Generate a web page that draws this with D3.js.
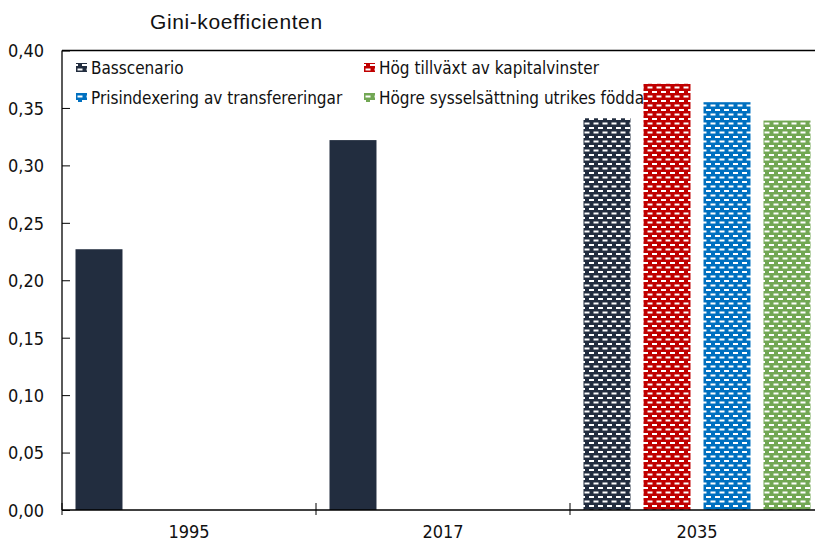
<!DOCTYPE html>
<html>
<head>
<meta charset="utf-8">
<script src="https://cdn.jsdelivr.net/npm/d3@7"></script>
<style>
  body { margin: 0; background: #fff; overflow: hidden; }
  text { font-family: "Liberation Sans Narrow", "DejaVu Sans Condensed", sans-serif; fill: #111; }
</style>
</head>
<body>
<script>
// data
const years = ["1995", "2017", "2035"];
const series = ["Basscenario", "Hög tillväxt av kapitalvinster",
                "Prisindexering av transfereringar", "Högre sysselsättning utrikes födda"];
const colors = ["#222d3f", "#c00000", "#0070c0", "#72a754"];
// one value per series for each year (null = no bar)
const values1995 = [0.227, null, null, null];
const values2017 = [0.322, null, null, null];
const values2035 = [0.341, 0.371, 0.355, 0.339];
const yTicks = [0, 0.05, 0.10, 0.15, 0.20, 0.25, 0.30, 0.35, 0.40];

const table = [values1995, values2017, values2035];

const width = 815, height = 543;
const margin = {top: 50.5, right: -9, bottom: 33, left: 62};

const svg = d3.select("body").append("svg")
    .attr("width", width)
    .attr("height", height);

const defs = svg.append("defs");

// brick-like dash pattern, one per series colour
colors.forEach((c, i) => {
    const p = defs.append("pattern")
        .attr("id", "pat" + i)
        .attr("patternUnits", "userSpaceOnUse")
        .attr("width", 9)
        .attr("height", 9);
    p.append("rect").attr("width", 9).attr("height", 9).attr("fill", c);
    [[1, 1], [5.5, 5.5], [-3.5, 5.5]].forEach(([x, y]) => {
        p.append("rect")
            .attr("x", x).attr("y", y)
            .attr("width", 5).attr("height", 2)
            .attr("fill", "#fff");
    });
});

const x0 = d3.scaleBand()
    .domain(years)
    .range([margin.left, width - margin.right]);

const x1 = d3.scaleBand()
    .domain(series)
    .range([0, x0.bandwidth()])
    .paddingInner(0.217)
    .paddingOuter(0.225);

const y = d3.scaleLinear()
    .domain([0, 0.40])
    .range([height - margin.bottom, margin.top]);

const fmt = d => d3.format(".2f")(d).replace(".", ",");

// bars (1995 and 2017 solid, 2035 patterned)
years.forEach((yr, gi) => {
    const g = svg.append("g").attr("transform", `translate(${x0(yr)},0)`);
    table[gi].forEach((v, si) => {
        if (v == null) return;
        g.append("rect")
            .attr("x", x1(series[si]))
            .attr("y", y(v))
            .attr("width", x1.bandwidth())
            .attr("height", y(0) - y(v))
            .attr("fill", yr === "2035" ? `url(#pat${si})` : colors[si]);
    });
});

// y axis, ticks pointing into the plot
const yAxis = svg.append("g")
    .attr("transform", `translate(${margin.left},0)`)
    .call(d3.axisRight(y).tickValues(yTicks).tickFormat(fmt).tickSize(8));
yAxis.select(".domain").remove();
yAxis.selectAll(".tick line").attr("stroke", "#000");
yAxis.selectAll(".tick text")
    .attr("x", -18)
    .attr("text-anchor", "end")
    .attr("font-size", 18)
    .attr("dy", "0.35em");
svg.append("line")
    .attr("x1", margin.left).attr("x2", margin.left)
    .attr("y1", y(0.40)).attr("y2", y(0))
    .attr("stroke", "#000").attr("stroke-width", 1.3);

// x axis with ticks between groups
const xAxis = svg.append("g")
    .attr("transform", `translate(0,${y(0)})`);
xAxis.append("line")
    .attr("x1", margin.left).attr("x2", width)
    .attr("stroke", "#000").attr("stroke-width", 1.3);
xAxis.selectAll(".sep")
    .data(years)
    .join("line")
    .attr("x1", d => x0(d)).attr("x2", d => x0(d))
    .attr("y1", -7).attr("y2", 5)
    .attr("stroke", "#000");
xAxis.selectAll(".lab")
    .data(years)
    .join("text")
    .attr("x", d => x0(d) + x0.bandwidth() / 2)
    .attr("y", 28)
    .attr("text-anchor", "middle")
    .attr("font-size", 18)
    .text(d => d);

// legend box top edge
svg.append("line")
    .attr("x1", margin.left).attr("x2", width)
    .attr("y1", y(0.40)).attr("y2", y(0.40))
    .attr("stroke", "#000").attr("stroke-width", 1.3);

// legend: two columns, two rows
const legendPos = [[76, 68], [364, 68], [76, 98], [364, 98]];
series.forEach((s, i) => {
    const [lx, ly] = legendPos[i];
    svg.append("rect")
        .attr("x", lx).attr("y", ly - 5)
        .attr("width", 11).attr("height", 9)
        .attr("fill", `url(#pat${i})`);
    svg.append("text")
        .attr("x", lx + 15)
        .attr("y", ly)
        .attr("dy", "0.35em")
        .attr("font-size", 17)
        .text(s);
});

// title
svg.append("text")
    .attr("x", 150)
    .attr("y", 29)
    .attr("font-size", 21)
    .attr("letter-spacing", 0.6)
    .style("font-family", "'Liberation Sans', Arial, sans-serif")
    .text("Gini-koefficienten");
</script>
</body>
</html>
